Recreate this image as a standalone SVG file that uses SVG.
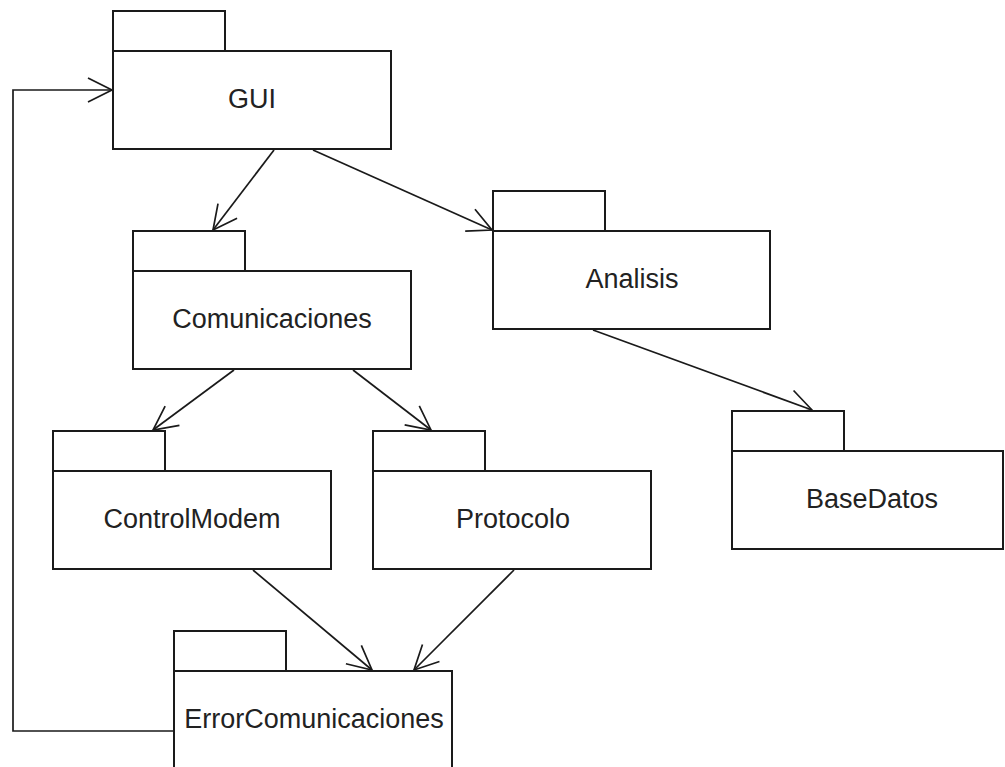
<svg xmlns="http://www.w3.org/2000/svg" width="1005" height="767" viewBox="0 0 1005 767">
<style>
.box{fill:#fff;stroke:#1a1a1a;stroke-width:2}
.lbl{font-family:"Liberation Sans",Arial,sans-serif;font-size:27px;fill:#222;text-anchor:middle}
.con{fill:none;stroke:#1a1a1a;stroke-width:1.7;marker-end:url(#arr)}
.con2{fill:none;stroke:#1a1a1a;stroke-width:1.7}
</style>
<defs>
<marker id="arr" markerUnits="userSpaceOnUse" orient="auto" viewBox="-30 -15 32 30" refX="0" refY="0" markerWidth="32" markerHeight="30" overflow="visible">
<path d="M-24,-12 L0,0 L-24,12" fill="none" stroke="#1a1a1a" stroke-width="1.7"/>
</marker>
</defs>
<rect width="1005" height="767" fill="#fff"/>
<g id="connectors">
<polyline class="con" points="174,731 13,731 13,90 112,90"/>
<line class="con" x1="274" y1="150" x2="213" y2="230"/>
<line class="con" x1="313" y1="150" x2="492" y2="230"/>
<line class="con" x1="234" y1="370" x2="153" y2="430"/>
<line class="con" x1="353" y1="370" x2="431" y2="430"/>
<line class="con" x1="593" y1="330" x2="812" y2="410"/>
<line class="con" x1="253" y1="570" x2="372" y2="670"/>
<line class="con" x1="514" y1="570" x2="414" y2="670"/>
</g>
<g id="GUI">
<rect class="box" x="113" y="11" width="112" height="40"/>
<rect class="box" x="113" y="51" width="278" height="98"/>
<text class="lbl" x="252" y="108">GUI</text>
</g>
<g id="Comunicaciones">
<rect class="box" x="133" y="231" width="112" height="40"/>
<rect class="box" x="133" y="271" width="278" height="98"/>
<text class="lbl" x="272" y="328">Comunicaciones</text>
</g>
<g id="Analisis">
<rect class="box" x="493" y="191" width="112" height="40"/>
<rect class="box" x="493" y="231" width="277" height="98"/>
<text class="lbl" x="632" y="288">Analisis</text>
</g>
<g id="BaseDatos">
<rect class="box" x="732" y="411" width="112" height="40"/>
<rect class="box" x="732" y="451" width="271" height="98"/>
<text class="lbl" x="872" y="508">BaseDatos</text>
</g>
<g id="ControlModem">
<rect class="box" x="53" y="431" width="112" height="40"/>
<rect class="box" x="53" y="471" width="278" height="98"/>
<text class="lbl" x="192" y="528">ControlModem</text>
</g>
<g id="Protocolo">
<rect class="box" x="373" y="431" width="112" height="40"/>
<rect class="box" x="373" y="471" width="278" height="98"/>
<text class="lbl" x="513" y="528">Protocolo</text>
</g>
<g id="ErrorComunicaciones">
<rect class="box" x="174" y="631" width="112" height="40"/>
<rect class="box" x="174" y="671" width="278" height="98"/>
<text class="lbl" x="314" y="728">ErrorComunicaciones</text>
</g>
</svg>
